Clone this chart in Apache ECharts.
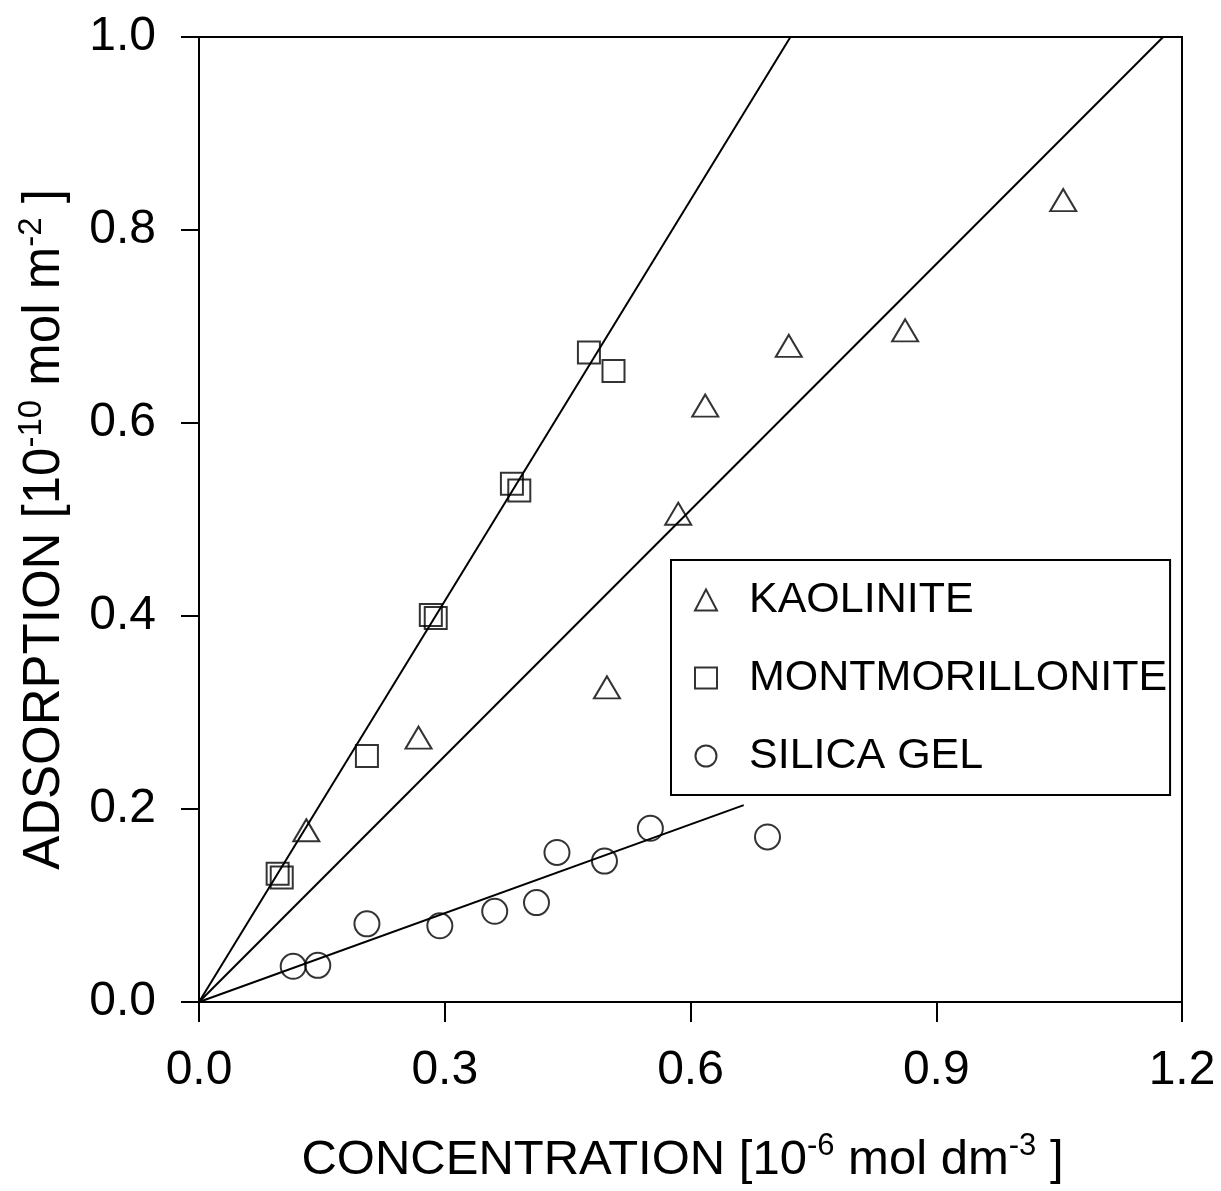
<!DOCTYPE html>
<html>
<head>
<meta charset="utf-8">
<script src="https://cdn.jsdelivr.net/npm/echarts@6/dist/echarts.min.js"></script>
<style>
  html, body { margin: 0; padding: 0; background: #fff; }
  #chart { width: 1221px; height: 1191px; }
</style>
</head>
<body>
<div id="chart"></div>
<script>
// ---- data ----
const kaolinite = [
  [0.131, 0.178], [0.268, 0.274], [0.498, 0.326], [0.585, 0.506],
  [0.618, 0.618], [0.720, 0.680], [0.862, 0.696], [1.055, 0.831]
];
const montmorillonite = [
  [0.096, 0.133], [0.101, 0.129], [0.205, 0.255], [0.283, 0.401],
  [0.289, 0.398], [0.382, 0.537], [0.391, 0.530], [0.476, 0.673],
  [0.506, 0.654]
];
const silicaGel = [
  [0.115, 0.037], [0.145, 0.038], [0.205, 0.081], [0.294, 0.079],
  [0.361, 0.094], [0.412, 0.103], [0.437, 0.155], [0.495, 0.146],
  [0.551, 0.180], [0.694, 0.171]
];
// fitted straight lines (end points)
const fitKaolinite = [[0, 0], [1.177, 1.0]];
const fitMontmorillonite = [[0, 0], [0.722, 1.0]];
const fitSilica = [[0, 0], [0.665, 0.204]];

const seriesNames = ['KAOLINITE', 'MONTMORILLONITE', 'SILICA GEL'];
const xTicks = { min: 0, max: 1.2, interval: 0.3 };
const yTicks = { min: 0, max: 1.0, interval: 0.2 };

const FONT = 'Liberation Sans, Arial, Helvetica, sans-serif';
const markerStyle = { color: 'rgba(0,0,0,0)', borderColor: '#000', borderWidth: 2 };
const fitLine = (data) => ({
  type: 'line', data: data, symbol: 'none', silent: true,
  lineStyle: { color: '#000', width: 2 }, z: 1, animation: false
});

const chart = echarts.init(document.getElementById('chart'), null, { renderer: 'canvas' });
chart.setOption({
  backgroundColor: '#fff',
  animation: false,
  textStyle: { fontFamily: FONT, color: '#000' },
  grid: {
    left: 199, top: 37, right: 39, bottom: 189,
    show: true, borderColor: '#000', borderWidth: 2, backgroundColor: 'transparent'
  },
  legend: {
    data: seriesNames,
    orient: 'vertical',
    left: 671, top: 560,
    padding: [15, 3, 14, 23],
    itemGap: 28,
    itemWidth: 22, itemHeight: 21,
    borderColor: '#000', borderWidth: 2, borderRadius: 0,
    backgroundColor: '#fff',
    selectedMode: false,
    itemStyle: { borderWidth: 2, borderColor: '#000', color: 'rgba(0,0,0,0)' },
    textStyle: { fontFamily: FONT, fontSize: 43, color: '#000', lineHeight: 50, padding: [0, 0, 0, 27] }
  },
  xAxis: {
    type: 'value', min: xTicks.min, max: xTicks.max, interval: xTicks.interval,
    name: '{t|CONCENTRATION [10}{s|-6}{t| mol dm}{s|-3}{t| ]}',
    nameLocation: 'middle', nameGap: 129,
    nameTextStyle: {
      padding: [0, 16, 0, 0],
      rich: {
        t: { fontFamily: FONT, fontSize: 49, lineHeight: 58, color: '#000' },
        s: { fontFamily: FONT, fontSize: 31, lineHeight: 58, color: '#000', verticalAlign: 'top' }
      }
    },
    axisLine: { show: true, lineStyle: { color: '#000', width: 2 } },
    axisTick: { show: true, inside: false, length: 20, lineStyle: { color: '#000', width: 2 } },
    axisLabel: { fontFamily: FONT, fontSize: 48, color: '#000', margin: 45,
      formatter: (v) => v.toFixed(1) },
    splitLine: { show: false }
  },
  yAxis: {
    type: 'value', min: yTicks.min, max: yTicks.max, interval: yTicks.interval,
    name: '{t|ADSORPTION [10}{s|-10}{t| mol m}{s|-2}{t| ]}',
    nameLocation: 'middle', nameGap: 124, nameRotate: 90,
    nameTextStyle: {
      padding: [0, 20, 0, 0],
      rich: {
        t: { fontFamily: FONT, fontSize: 51, lineHeight: 60, color: '#000' },
        s: { fontFamily: FONT, fontSize: 33, lineHeight: 60, color: '#000', verticalAlign: 'top' }
      }
    },
    axisLine: { show: true, lineStyle: { color: '#000', width: 2 } },
    axisTick: { show: true, inside: false, length: 18, lineStyle: { color: '#000', width: 2 } },
    axisLabel: { fontFamily: FONT, fontSize: 48, color: '#000', margin: 43,
      formatter: (v) => v.toFixed(1) },
    splitLine: { show: false }
  },
  series: [
    fitLine(fitKaolinite),
    fitLine(fitMontmorillonite),
    fitLine(fitSilica),
    { name: seriesNames[0], type: 'scatter', data: kaolinite, symbol: 'triangle',
      symbolSize: [26, 22], itemStyle: markerStyle, z: 3 },
    { name: seriesNames[1], type: 'scatter', data: montmorillonite, symbol: 'rect',
      symbolSize: 22, itemStyle: markerStyle, z: 3 },
    { name: seriesNames[2], type: 'scatter', data: silicaGel, symbol: 'circle',
      symbolSize: 25, itemStyle: markerStyle, z: 3 }
  ]
});
</script>
</body>
</html>
